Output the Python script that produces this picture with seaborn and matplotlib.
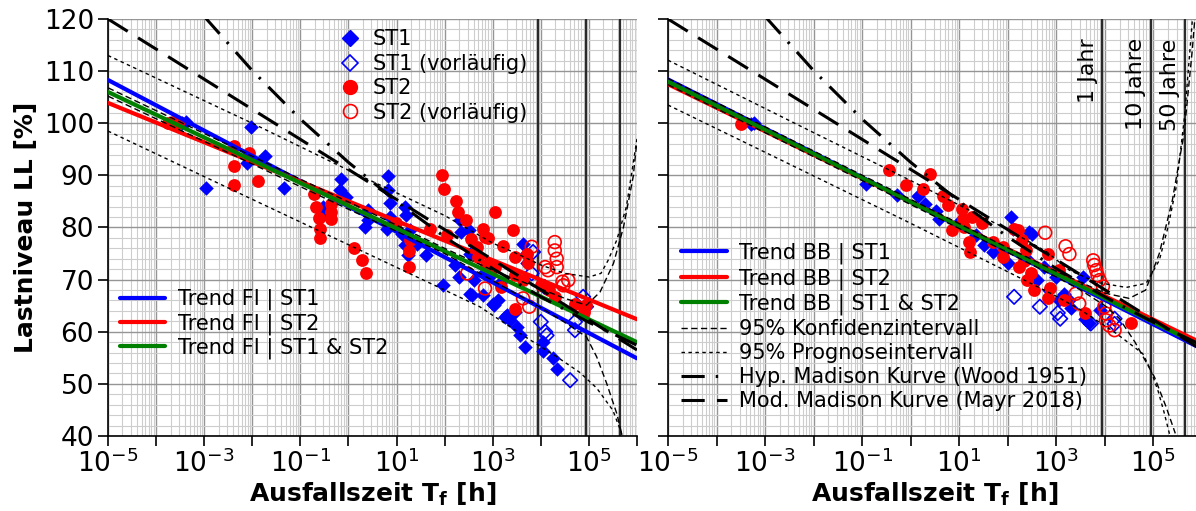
import numpy as np
import matplotlib
matplotlib.use("Agg")
import matplotlib.pyplot as plt
from matplotlib.lines import Line2D
from matplotlib.ticker import FixedLocator, LogLocator, MultipleLocator, NullFormatter
import seaborn as sns

# ---------------- data ----------------
# time to failure T_f [h] and load level LL [%]

# left panel: FI (as measured)
st1_fi_t = [3.5e-4, 4.2e-4, 1.1e-3, 9.3e-3, 7.8e-3, 1.8e-2, 4.6e-2,
            0.69, 0.66, 0.89, 0.30, 0.31, 2.5, 2.5, 2.2,
            6.5, 6.5, 7.2, 7.2, 6.2, 15, 16, 19, 13, 15, 27, 17, 41,
            93, 162, 209, 219, 324, 200, 339, 339, 617, 661, 813,
            4270, 5010, 5250, 1020, 1950, 2290, 3160, 3720, 4680,
            11200, 11200, 18200, 21900, 417, 363, 1260, 1780, 1050, 2880, 912, 1410]
st1_fi_ll = [100.0, 100.2, 87.6, 99.3, 92.3, 93.7, 87.5,
             89.4, 87.2, 85.9, 83.9, 82.6, 83.3, 81.4, 80.0,
             89.8, 87.2, 84.7, 82.0, 79.8, 83.9, 82.4, 79.5, 78.8, 76.6, 76.9, 74.7, 74.7,
             68.9, 72.8, 81.4, 79.2, 79.6, 70.5, 67.3, 75.0, 67.0, 71.2, 73.1,
             76.9, 75.0, 73.1, 65.4, 63.2, 62.2, 60.9, 59.3, 57.1,
             56.4, 58.0, 54.9, 52.9, 69.9, 67.0, 66.0, 62.8, 65.1, 63.8, 70.8, 69.3]

st1_fi_prelim_t = [6900, 6460, 12000, 75900, 87100, 10000, 12300, 13200, 51300, 51300, 40700]
st1_fi_prelim_ll = [75.3, 71.2, 68.6, 66.7, 64.8, 61.9, 60.0, 59.3, 61.9, 60.3, 50.7]

st2_fi_t = [1.8e-4, 2.9e-4, 2.3e-4, 4.2e-3, 4.1e-3, 4.1e-3, 8.7e-3, 1.3e-2,
            0.19, 0.21, 0.25, 0.26, 0.26, 0.44, 0.44, 0.44,
            1.3, 1.9, 2.3, 9.8, 19, 18, 18, 50,
            87, 95, 174, 191, 275, 347, 479, 631, 794, 1100,
            1660, 2630, 2880, 5250, 490, 724, 1510, 2880, 2880, 4170,
            5370, 10200, 14800, 19500, 77600, 85100, 1120, 51300, 110, 692]
st2_fi_ll = [100.0, 100.0, 100.3, 95.7, 91.8, 88.1, 94.2, 88.9,
             86.5, 84.0, 81.9, 79.8, 77.9, 84.6, 83.0, 81.7,
             76.0, 73.7, 71.3, 80.8, 77.6, 75.5, 72.4, 79.8,
             90.0, 87.3, 85.0, 83.0, 81.4, 77.7, 76.3, 79.7, 77.9, 82.9,
             76.4, 79.5, 74.4, 75.0, 74.4, 72.8, 68.6, 70.8, 64.4, 69.9,
             73.1, 68.9, 68.0, 66.7, 63.8, 65.1, 72.4, 65.4, 78.5, 78.2]

st2_fi_prelim_t = [295, 692, 6460, 19500, 19500, 21400, 21400, 14100, 37200, 29500,
                   4270, 5750, 12300, 28200]
st2_fi_prelim_ll = [71.2, 68.3, 76.3, 77.2, 75.6, 74.0, 72.4, 71.8, 69.9, 68.9,
                    66.4, 64.8, 72.4, 69.6]

# right panel: BB
st1_bb_t = [5.1e-4, 6.0e-4, 0.12, 0.51, 1.4, 2.0, 3.3, 3.9, 10, 22, 33, 49,
            117, 126, 100, 316, 275, 562, 977, 1450, 3470, 4790, 7760,
            251, 398, 708, 2000, 1120, 3980, 1860]
st1_bb_ll = [99.8, 100.0, 88.3, 86.2, 86.0, 84.6, 83.2, 81.7, 81.1, 78.5, 76.6, 75.3,
             82.0, 79.8, 73.1, 78.8, 79.2, 72.4, 70.5, 67.3, 70.5, 61.6, 64.1,
             74.0, 70.0, 68.0, 64.5, 66.0, 62.5, 66.0]

st1_bb_prelim_t = [135, 457, 1070, 1200, 5130, 15800, 15800]
st1_bb_prelim_ll = [66.7, 64.8, 63.6, 62.5, 61.6, 62.5, 61.5]

st2_bb_t = [3.2e-4, 0.36, 0.81, 2.5, 1.8, 4.6, 5.8, 11.5, 12, 12.6, 18.6, 30,
            7.2, 16, 17, 49, 79, 79, 174, 135, 200, 234, 295, 347,
            661, 724, 661, 1150, 1450, 3980, 34700, 166, 214, 251]
st2_bb_ll = [99.8, 91.0, 88.1, 90.2, 87.3, 86.0, 84.3, 83.6, 81.7, 80.1, 82.0, 80.8,
             79.5, 77.2, 75.3, 77.2, 76.3, 74.4, 72.4, 79.8, 77.6, 75.6, 71.2, 68.0,
             75.0, 68.3, 66.4, 71.8, 66.0, 63.6, 61.6, 79.5, 73.5, 70.0]

st2_bb_prelim_t = [589, 1550, 1860, 5750, 6030, 6610, 7080, 7760, 9120,
                   2510, 2950, 9770, 10500, 10500, 12300, 15800]
st2_bb_prelim_ll = [79.0, 76.4, 74.9, 73.7, 72.8, 71.8, 70.8, 69.9, 68.7,
                    67.3, 65.4, 64.8, 63.5, 62.2, 61.2, 60.3]

# trend lines (straight in semi-log), values at 1e-5 h and 1e6 h
trend_t = [1e-5, 1e6]
fi_st1_ll = [108.3, 54.9]
fi_st2_ll = [103.9, 62.4]
fi_all_ll = [106.0, 58.0]
bb_st1_ll = [108.4, 56.7]
bb_st2_ll = [107.5, 57.8]
bb_all_ll = [108.0, 57.2]

# Madison curves
mayr_ll = [120.0, 56.5]
wood_t = [1e-3, 1e-2, 1e-1, 1, 10, 100, 1e3, 1e4, 1e5, 1e6]
wood_ll = [120.5, 110.1, 100.8, 92.5, 85.0, 78.2, 72.1, 66.7, 61.8, 57.4]

# 95 % bands, left panel (FI, ST1 & ST2)
conf_up_fi_t = [1e-5, 1, 100, 1000, 1e4, 31600, 89100, 1.70e5, 3.24e5, 5.25e5, 8.32e5, 1e6]
conf_up_fi_ll = [106.8, 84.9, 76.0, 71.8, 68.2, 66.4, 65.1, 67.6, 73.1, 80.1, 89.7, 96.7]
conf_lo_fi_t = [1e-5, 1, 100, 1000, 1e4, 31600, 89100, 1.45e5, 2.34e5, 3.80e5, 4.79e5, 5.25e5]
conf_lo_fi_ll = [105.2, 83.5, 75.0, 69.8, 64.6, 61.8, 59.0, 55.2, 50.1, 44.3, 40.5, 38.0]
prog_up_fi_t = [1e-5, 1e-2, 1, 100, 1000, 3160, 1e4, 31600, 1e5, 1.78e5, 2.51e5, 3.80e5, 6.03e5, 1e6]
prog_up_fi_ll = [113.0, 100.0, 91.0, 82.3, 77.0, 75.0, 72.8, 71.2, 70.5, 71.2, 73.7, 77.6, 84.0, 97.0]
prog_lo_fi_t = [1e-5, 1e-2, 1, 100, 537, 4270, 21400, 64600, 1.45e5, 3.16e5, 4.79e5, 5.25e5]
prog_lo_fi_ll = [98.5, 85.4, 76.7, 68.0, 64.8, 59.3, 55.2, 52.2, 49.2, 44.9, 40.5, 38.0]

# 95 % bands, right panel (BB, ST1 & ST2)
conf_up_bb_t = [1e-5, 1, 100, 1000, 1e4, 31600, 69200, 1.32e5, 2.45e5, 4.27e5, 6.31e5, 7.4e5]
conf_up_bb_ll = [108.6, 85.4, 76.1, 71.6, 67.4, 66.4, 68.0, 75.0, 85.2, 98.0, 114.0, 122.0]
conf_lo_bb_t = [1e-5, 1, 100, 1000, 3160, 1e4, 20000, 41700, 1.05e5, 1.82e5, 2.82e5]
conf_lo_bb_ll = [107.4, 84.4, 75.2, 70.5, 68.0, 65.0, 62.5, 58.0, 51.3, 45.6, 40.5]
prog_up_bb_t = [1e-5, 1e-2, 1, 100, 617, 1860, 6610, 27500, 70800, 1.32e5, 2.0e5, 2.95e5, 4.37e5, 6.03e5, 7.0e5]
prog_up_bb_ll = [112.1, 98.2, 89.0, 79.6, 75.4, 71.8, 69.5, 68.5, 69.3, 73.7, 80.1, 87.8, 101.2, 117.3, 125.0]
prog_lo_bb_t = [1e-5, 1e-2, 1, 100, 1000, 3160, 17000, 60300, 89100, 1.26e5, 1.66e5, 2.14e5, 2.34e5]
prog_lo_bb_ll = [103.5, 89.9, 80.8, 71.5, 66.8, 64.2, 59.7, 55.8, 52.5, 48.5, 44.5, 40.4, 39.0]

year_lines = [8760, 87600, 438000]
year_labels = ["1 Jahr", "10 Jahre", "50 Jahre"]

x_ticks = [1e-5, 1e-4, 1e-3, 1e-2, 1e-1, 1, 10, 100, 1e3, 1e4, 1e5, 1e6]
x_tick_labels = [r"$10^{-5}$", "", r"$10^{-3}$", "", r"$10^{-1}$", "",
                 r"$10^{1}$", "", r"$10^{3}$", "", r"$10^{5}$", ""]

BLUE, RED, GREEN = "#0000ff", "#ff0000", "#008000"
DASH_CONF = (0, (4.5, 2.5))
DASH_PROG = (0, (2.5, 2.5))
DASH_WOOD = (0, (7.6, 3.6, 0.8, 3.6))
DASH_MAYR = (0, (7.6, 4.0))

sns.set_theme(style="white")
plt.rcParams["font.family"] = ["DejaVu Sans"]
plt.rcParams["mathtext.fontset"] = "dejavusans"
for key in ["text.color", "axes.labelcolor", "xtick.color", "ytick.color"]:
    plt.rcParams[key] = "black"

fig = plt.figure(figsize=(11.96, 5.11), dpi=100)
ax1 = fig.add_axes([0.0903, 0.1468, 0.4423, 0.8160])
ax2 = fig.add_axes([0.5585, 0.1468, 0.4465, 0.8160])


def style_axes(ax):
    ax.set_xscale("log")
    ax.set_xlim(1e-5, 1e6)
    ax.set_ylim(40, 120)
    ax.xaxis.set_major_locator(FixedLocator(x_ticks))
    ax.set_xticklabels(x_tick_labels)
    ax.xaxis.set_minor_locator(LogLocator(base=10, subs=np.arange(2, 10), numticks=100))
    ax.xaxis.set_minor_formatter(NullFormatter())
    ax.yaxis.set_major_locator(MultipleLocator(10))
    ax.yaxis.set_minor_locator(MultipleLocator(2))
    ax.grid(True, which="major", color="#959595", lw=1.0)
    ax.grid(True, which="minor", color="#cdcdcd", lw=0.8)
    ax.set_axisbelow(True)
    ax.tick_params(which="major", direction="out", length=7, width=1.2,
                   color="black", labelcolor="black", labelsize=19,
                   bottom=True, left=True, pad=3)
    ax.tick_params(which="minor", length=0)
    for side in ["top", "right"]:
        ax.spines[side].set_visible(False)
    for side in ["left", "bottom"]:
        ax.spines[side].set_color("black")
        ax.spines[side].set_linewidth(1.2)
    for t in year_lines:
        ax.axvline(t, color="#2a2a2a", lw=1.6, zorder=1.5)
    ax.set_xlabel(r"Ausfallszeit T$_\mathbf{f}$ [h]", fontsize=18, fontweight="bold",
                  labelpad=2, color="black")


def draw_points(ax, s1, s1p, s2, s2p):
    sns.scatterplot(x=s1[0], y=s1[1], marker="D", color=BLUE, s=55, linewidth=0, ax=ax, zorder=3)
    sns.scatterplot(x=s1p[0], y=s1p[1], marker="D", facecolor="none", edgecolor=BLUE,
                    s=55, linewidth=1.2, ax=ax, zorder=3)
    sns.scatterplot(x=s2[0], y=s2[1], marker="o", color=RED, s=85, linewidth=0, ax=ax, zorder=3)
    sns.scatterplot(x=s2p[0], y=s2p[1], marker="o", facecolor="none", edgecolor=RED,
                    s=85, linewidth=1.2, ax=ax, zorder=3)


def draw_lines(ax, st1, st2, both, bands):
    sns.lineplot(x=trend_t, y=st1, color=BLUE, lw=3, ax=ax, zorder=4)
    sns.lineplot(x=trend_t, y=st2, color=RED, lw=3, ax=ax, zorder=4)
    sns.lineplot(x=trend_t, y=both, color=GREEN, lw=3, ax=ax, zorder=4)
    cu, cl, pu, pl = bands
    for t, ll in (cu, cl):
        ax.plot(t, ll, color="black", lw=1.0, ls=DASH_CONF, zorder=5)
    for t, ll in (pu, pl):
        ax.plot(t, ll, color="black", lw=1.0, ls=DASH_PROG, zorder=5)
    ax.plot(wood_t, wood_ll, color="black", lw=2.2, ls=DASH_WOOD, zorder=5)
    ax.plot(trend_t, mayr_ll, color="black", lw=2.2, ls=DASH_MAYR, zorder=5)


style_axes(ax1)
style_axes(ax2)

draw_points(ax1, (st1_fi_t, st1_fi_ll), (st1_fi_prelim_t, st1_fi_prelim_ll),
            (st2_fi_t, st2_fi_ll), (st2_fi_prelim_t, st2_fi_prelim_ll))
draw_lines(ax1, fi_st1_ll, fi_st2_ll, fi_all_ll,
           ((conf_up_fi_t, conf_up_fi_ll), (conf_lo_fi_t, conf_lo_fi_ll),
            (prog_up_fi_t, prog_up_fi_ll), (prog_lo_fi_t, prog_lo_fi_ll)))

draw_points(ax2, (st1_bb_t, st1_bb_ll), (st1_bb_prelim_t, st1_bb_prelim_ll),
            (st2_bb_t, st2_bb_ll), (st2_bb_prelim_t, st2_bb_prelim_ll))
draw_lines(ax2, bb_st1_ll, bb_st2_ll, bb_all_ll,
           ((conf_up_bb_t, conf_up_bb_ll), (conf_lo_bb_t, conf_lo_bb_ll),
            (prog_up_bb_t, prog_up_bb_ll), (prog_lo_bb_t, prog_lo_bb_ll)))

for ax in (ax1, ax2):
    ax.set_xlim(1e-5, 1e6)
    ax.set_ylim(40, 120)
    ax.set_xlabel(r"Ausfallszeit T$_\mathbf{f}$ [h]", fontsize=18, fontweight="bold",
                  labelpad=2, color="black")

ax1.set_ylabel("Lastniveau LL [%]", fontsize=18, fontweight="bold", labelpad=4, color="black")
ax2.set_ylabel("")
ax2.tick_params(labelleft=False)

for t, lab in zip(year_lines, year_labels):
    ax2.annotate(lab, xy=(t, 116.3), xytext=(-3, 0), textcoords="offset points",
                 rotation=90, ha="right", va="top", fontsize=16, color="black")

# legends
marker_handles = [
    Line2D([], [], ls="none", marker="D", ms=8, color=BLUE, label="ST1"),
    Line2D([], [], ls="none", marker="D", ms=8, mfc="none", mec=BLUE, mew=1.2, label="ST1 (vorläufig)"),
    Line2D([], [], ls="none", marker="o", ms=10, color=RED, label="ST2"),
    Line2D([], [], ls="none", marker="o", ms=10, mfc="none", mec=RED, mew=1.2, label="ST2 (vorläufig)"),
]
leg1 = ax1.legend(handles=marker_handles, loc="upper left", bbox_to_anchor=(0.437, 0.975),
                  frameon=False, fontsize=15, handlelength=1.0, handletextpad=0.6,
                  labelspacing=0.21, borderpad=0, borderaxespad=0)
ax1.add_artist(leg1)

fi_handles = [
    Line2D([], [], color=BLUE, lw=3, label="Trend FI | ST1"),
    Line2D([], [], color=RED, lw=3, label="Trend FI | ST2"),
    Line2D([], [], color=GREEN, lw=3, label="Trend FI | ST1 & ST2"),
]
ax1.legend(handles=fi_handles, loc="lower left", bbox_to_anchor=(0.022, 0.185),
           frameon=False, fontsize=15, handlelength=2.2, handletextpad=0.6,
           labelspacing=0.13, borderpad=0, borderaxespad=0)

bb_handles = [
    Line2D([], [], color=BLUE, lw=3, label="Trend BB | ST1"),
    Line2D([], [], color=RED, lw=3, label="Trend BB | ST2"),
    Line2D([], [], color=GREEN, lw=3, label="Trend BB | ST1 & ST2"),
    Line2D([], [], color="black", lw=1.0, ls=DASH_CONF, label="95% Konfidenzintervall"),
    Line2D([], [], color="black", lw=1.0, ls=DASH_PROG, label="95% Prognoseintervall"),
    Line2D([], [], color="black", lw=2.2, ls=DASH_WOOD, label="Hyp. Madison Kurve (Wood 1951)"),
    Line2D([], [], color="black", lw=2.2, ls=DASH_MAYR, label="Mod. Madison Kurve (Mayr 2018)"),
]
ax2.legend(handles=bb_handles, loc="lower left", bbox_to_anchor=(0.024, 0.06),
           frameon=False, fontsize=15, handlelength=2.2, handletextpad=0.6,
           labelspacing=0.19, borderpad=0, borderaxespad=0)

fig.savefig("out.png", dpi=100)
